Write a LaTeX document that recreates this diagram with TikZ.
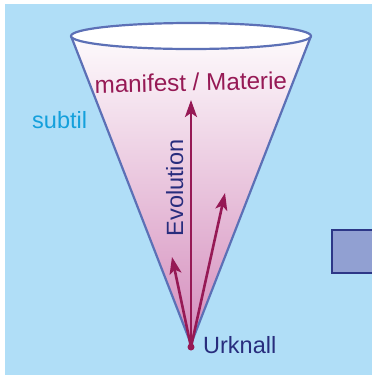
\documentclass[tikz,border=0pt]{standalone}
\usepackage{fontspec}
\setmainfont{Liberation Sans}
\usetikzlibrary{arrows.meta}
\definecolor{bgblue}{RGB}{176,222,247}
\definecolor{coneline}{RGB}{92,112,182}
\definecolor{conepink}{RGB}{212,140,188}
\definecolor{arrowmag}{RGB}{150,25,85}
\definecolor{darkblue}{RGB}{40,45,125}
\definecolor{cyantext}{RGB}{20,160,220}
\definecolor{boxfill}{RGB}{145,160,210}
\definecolor{boxline}{RGB}{45,55,135}
\tikzset{
  lbl/.style={font=\fontsize{23.5}{27}\selectfont, inner sep=0pt},
  evo/.style={draw=arrowmag, line width=2.6pt, -{Stealth[length=17pt,width=12pt,inset=4pt]}},
}
\begin{document}
\begin{tikzpicture}[x=1pt,y=-1pt]
\useasboundingbox (0,0) rectangle (372,376);
\fill[white] (0,0) rectangle (372,376);
\fill[bgblue] (5,4) rectangle (372,375);
% box on the right
\draw[fill=boxfill, draw=boxline, line width=2.5pt] (332,230) rectangle (376,273);
% cone body
\shade[top color=white, bottom color=conepink]
  (71,36) -- (191,344) -- (311,36) arc[start angle=0, end angle=-180, x radius=120pt, y radius=-13pt] -- cycle;
\draw[coneline, line width=2.2pt, line join=round] (71,36) -- (191,344) -- (311,36);
\draw[coneline, line width=2.2pt, fill=white] (191,36) ellipse [x radius=120pt, y radius=13pt];
% apex and arrows
\coordinate (tipM) at (191,100);
\coordinate (tipR) at (225,193);
\coordinate (tipL) at (172,257);
\node[circle, fill=arrowmag, inner sep=0pt, minimum size=7pt] (apex) at (191,347) {};
\draw[evo] (apex.center) -- (tipM);
\draw[evo] (apex.center) -- (tipR);
\draw[evo] (apex.center) -- (tipL);
% texts
\node[lbl, text=arrowmag, anchor=base, rotate=1.2, font=\fontsize{24.2}{28}\selectfont] (mani) at (191,91) {manifest / Materie};
\node[lbl, text=darkblue, anchor=base, rotate=90] (evol) at (183,188) {Evolution};
\node[lbl, text=darkblue, anchor=base west] (urk) at (203,353) {Urknall};
\node[lbl, text=cyantext, anchor=base west] (sub) at (32,128) {subtil};
\end{tikzpicture}
\end{document}
